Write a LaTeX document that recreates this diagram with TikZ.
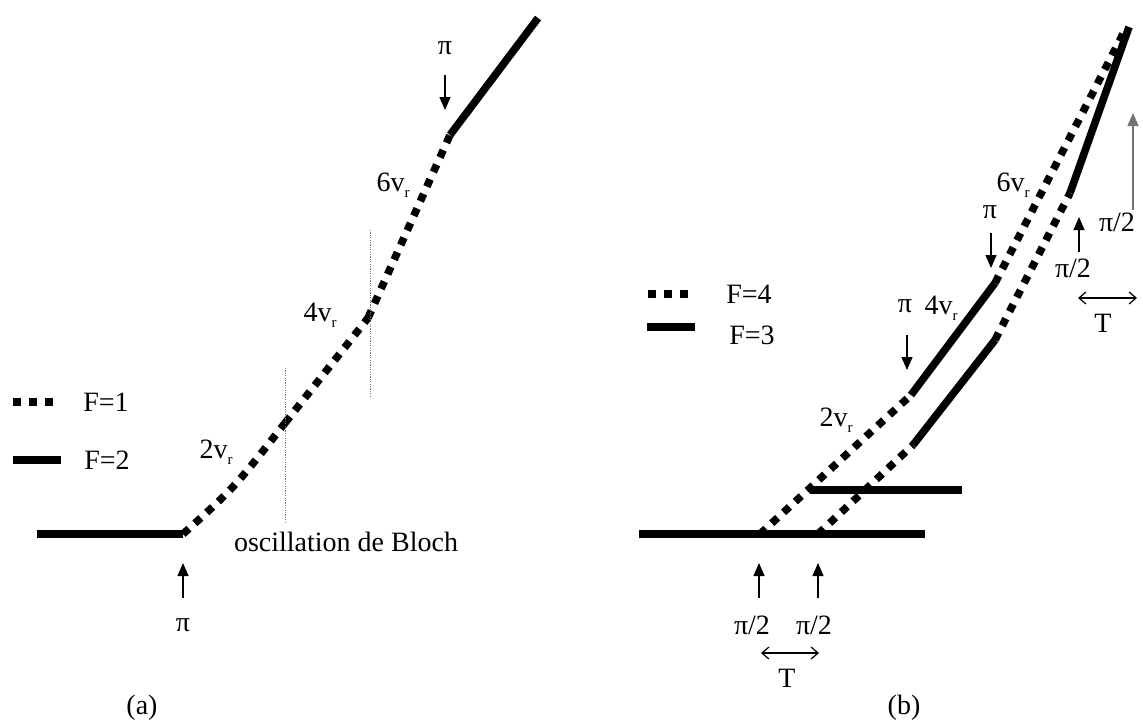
\documentclass[tikz,border=0pt]{standalone}
\usepackage{fontspec}
\setmainfont{Liberation Serif}
\usetikzlibrary{arrows.meta}
\newcommand{\vsub}[1]{#1v\raisebox{-0.45ex}{\fontsize{7.5}{8}\selectfont r}}
\begin{document}
\begin{tikzpicture}[x=0.5pt,y=-0.5pt,
  solidF/.style={line width=3.8pt, line cap=butt},
  dotF/.style={line width=3.8pt, line cap=butt, dash pattern=on 4pt off 4pt},
  guide/.style={line width=0.35pt, black!55, dash pattern=on 0.6pt off 0.6pt},
  uparrow/.style={line width=0.6pt, -{Triangle[length=6.5pt,width=5.5pt]}},
  greyarrow/.style={line width=0.6pt, black!55, -{Triangle[length=6.5pt,width=5.5pt]}},
  twoarrow/.style={line width=0.6pt, {Straight Barb[length=3.5pt,width=6pt]}-{Straight Barb[length=3.5pt,width=6pt]}},
  lbl/.style={font=\fontsize{14}{16}\selectfont, inner sep=0pt, anchor=center}]
\useasboundingbox (0,0) rectangle (1143,725);

% ---------------- panel (a) ----------------
\coordinate (a0) at (37,534);
\coordinate (a1) at (183,534);
\coordinate (ac) at (234,488);
\coordinate (a2) at (285,423);
\coordinate (a3) at (368,318);
\coordinate (a4) at (450,135);
\coordinate (a5) at (538,18);
\draw[solidF] (a0) -- (a1);
\draw[dotF] (a1) .. controls (ac) .. (a2);
\draw[dotF] (a2) -- (a3);
\draw[dotF] (a3) -- (a4);
\draw[solidF] (a4) -- (a5);

% guide lines
\coordinate (g1t) at (285,368); \coordinate (g1b) at (285,522);
\coordinate (g2t) at (370,230); \coordinate (g2b) at (370,398);
\draw[guide] (g1t) -- (g1b);
\draw[guide] (g2t) -- (g2b);

% legend (a)
\coordinate (la1) at (13,402); \coordinate (la2) at (53,402);
\coordinate (la3) at (13,460); \coordinate (la4) at (61,460);
\draw[line width=3.8pt, dash pattern=on 4pt off 4pt] (la1) -- (la2);
\draw[solidF] (la3) -- (la4);
\node[lbl] (F1) at (106,402) {F=1};
\node[lbl] (F2) at (107,460) {F=2};

% labels (a)
\node[lbl] (v2a) at (216,452) {\vsub{2}};
\node[lbl] (v4a) at (320,315) {\vsub{4}};
\node[lbl] (v6a) at (393,185) {\vsub{6}};
\node[lbl] (pitopa) at (445,48) {π};
\coordinate (pta1) at (445,75); \coordinate (pta2) at (445,110);
\draw[uparrow] (pta1) -- (pta2);
\node[lbl] (pibota) at (183,625) {π};
\coordinate (pba1) at (183,598); \coordinate (pba2) at (183,563);
\draw[uparrow] (pba1) -- (pba2);
\node[lbl] (bloch) at (346,542) {oscillation de Bloch};
\node[lbl] (capa) at (142,708) {(a)};

% ---------------- panel (b) ----------------
\coordinate (h1a) at (639,534); \coordinate (h1b) at (925,534);
\coordinate (h2a) at (810,490); \coordinate (h2b) at (962,490);
\draw[solidF] (h1a) -- (h1b);
\draw[solidF] (h2a) -- (h2b);

% upper branch
\coordinate (u0) at (760,534);
\coordinate (u1) at (911,395);
\coordinate (u2) at (995,283);
\coordinate (u3) at (1125,30);
\draw[dotF] (u0) -- (u1);
\draw[solidF] (u1) -- (u2);
\draw[dotF] (u2) -- (u3);

% lower branch
\coordinate (w0) at (818,534);
\coordinate (w1) at (913,445);
\coordinate (w2) at (995,340);
\coordinate (w3) at (1070,193);
\coordinate (w4) at (1129,27);
\draw[dotF] (w0) -- (w1);
\draw[solidF] (w1) -- (w2);
\draw[dotF] (w2) -- (w3);
\draw[solidF] (w3) -- (w4);

% legend (b)
\coordinate (lb1) at (648,294); \coordinate (lb2) at (690,294);
\coordinate (lb3) at (647,327); \coordinate (lb4) at (695,327);
\draw[line width=3.8pt, dash pattern=on 4pt off 4pt] (lb1) -- (lb2);
\draw[solidF] (lb3) -- (lb4);
\node[lbl] (F4) at (749,294) {F=4};
\node[lbl] (F3) at (752,335) {F=3};

% labels (b)
\node[lbl] (v2b) at (836,420) {\vsub{2}};
\node[lbl] (pib1) at (905,306) {π};
\node[lbl] (v4b) at (941,308) {\vsub{4}};
\coordinate (pb1a) at (907,335); \coordinate (pb1b) at (907,370);
\draw[uparrow] (pb1a) -- (pb1b);
\node[lbl] (v6b) at (1013,185) {\vsub{6}};
\node[lbl] (pib2) at (990,212) {π};
\coordinate (pb2a) at (991,233); \coordinate (pb2b) at (991,268);
\draw[uparrow] (pb2a) -- (pb2b);

\node[lbl] (ph3) at (1073,268) {π/2};
\coordinate (pb3a) at (1079,252); \coordinate (pb3b) at (1079,217);
\draw[uparrow] (pb3a) -- (pb3b);
\node[lbl] (ph4) at (1117,222) {π/2};
\coordinate (pb4a) at (1133,210); \coordinate (pb4b) at (1133,113);
\draw[greyarrow] (pb4a) -- (pb4b);
\coordinate (tr1) at (1078,298); \coordinate (tr2) at (1137,298);
\draw[twoarrow] (tr1) -- (tr2);
\node[lbl] (Tr) at (1103,323) {T};

\coordinate (pb5a) at (759,598); \coordinate (pb5b) at (759,563);
\coordinate (pb6a) at (818,598); \coordinate (pb6b) at (818,563);
\draw[uparrow] (pb5a) -- (pb5b);
\draw[uparrow] (pb6a) -- (pb6b);
\node[lbl] (ph5) at (752,625) {π/2};
\node[lbl] (ph6) at (814,625) {π/2};
\coordinate (tb1) at (761,653); \coordinate (tb2) at (819,653);
\draw[twoarrow] (tb1) -- (tb2);
\node[lbl] (Tb) at (787,678) {T};
\node[lbl] (capb) at (904,708) {(b)};
\end{tikzpicture}
\end{document}
